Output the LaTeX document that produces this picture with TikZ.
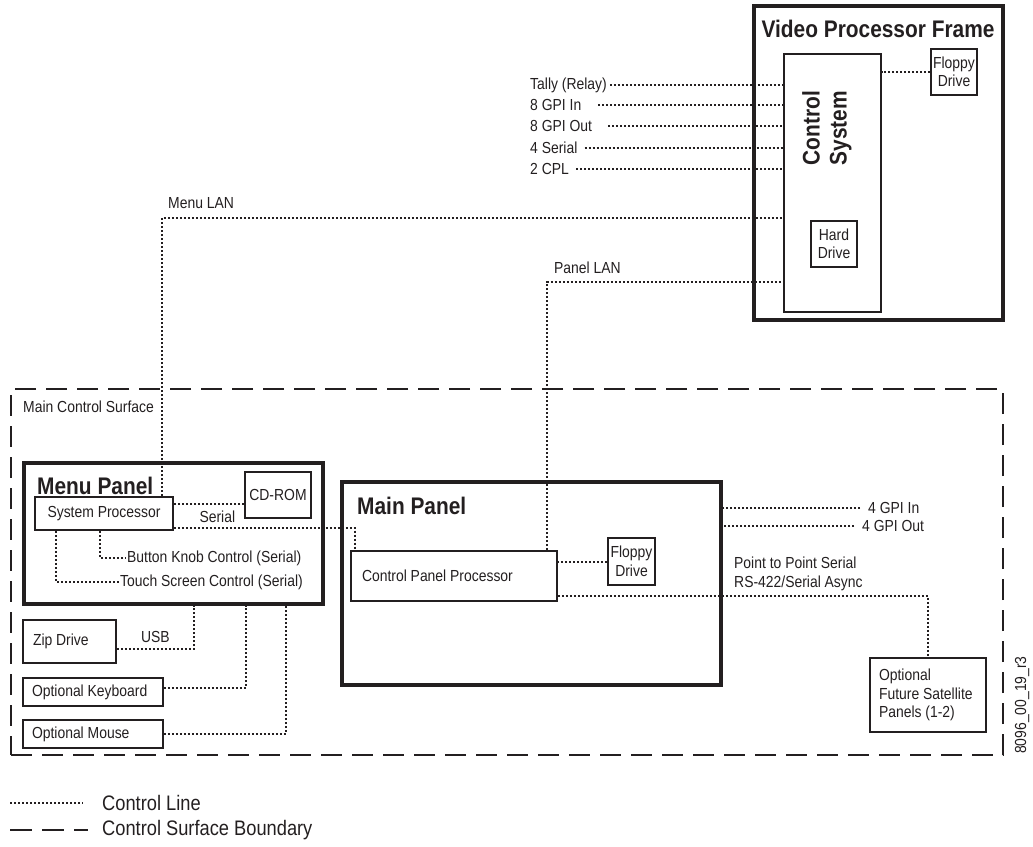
\documentclass[tikz,border=0pt]{standalone}
\usepackage{fontspec}
\setmainfont{Liberation Sans}[FakeStretch=0.87]
\usepackage{tikz}
\usetikzlibrary{positioning, calc}
\definecolor{ink}{HTML}{231F20}
\tikzstyle{frame} = [rectangle, draw=ink, line width=4pt, inner sep=0pt]
\tikzstyle{unit} = [rectangle, draw=ink, line width=1.6pt, inner sep=0pt, align=center]
\tikzstyle{title} = [anchor=west, inner sep=0pt, font=\bfseries\fontsize{24}{27}\selectfont]
\tikzstyle{lbl} = [anchor=west, inner sep=1pt]
\tikzstyle{ctrl} = [draw=ink, line width=2pt, dash pattern=on 2pt off 2pt]
\tikzstyle{bound} = [draw=ink, line width=1.6pt, dash pattern=on 21pt off 10pt]

\begin{document}
\begin{tikzpicture}[x=1pt, y=-1pt, text=ink, every node/.style={font=\fontsize{16}{18.5}\selectfont}]
  \useasboundingbox (0,0) rectangle (1033,846);

  % video processor frame
  \node[frame, minimum width=249pt, minimum height=314pt] (vpf) at (878.5,163) {};
  \node[inner sep=0pt, font=\bfseries\fontsize{24}{27}\selectfont] (vpftitle) at (878,29) {Video Processor Frame};
  \node[unit, minimum width=97pt, minimum height=258pt] (ctrlsys) at (832.5,183) {};
  \node[rotate=90, inner sep=0pt, align=center, font=\bfseries\fontsize{24}{27}\selectfont] (cslabel) at (827,128) {Control\\System};
  \node[unit, minimum width=46pt, minimum height=46pt] (floppyA) at (954,72) {Floppy\\Drive};
  \node[unit, minimum width=46pt, minimum height=46pt] (harddrive) at (834,244) {Hard\\Drive};
  \draw[ctrl] (floppyA.west) -- (floppyA.west -| ctrlsys.east);

  % frame signals
  \node[lbl] (tally) at (529,85) {Tally (Relay)};
  \node[lbl] (gpiin) at (529,105) {8 GPI In};
  \node[lbl] (gpiout) at (529,126) {8 GPI Out};
  \node[lbl] (serial) at (529,148) {4 Serial};
  \node[lbl] (cpl) at (529,169) {2 CPL};
  \draw[ctrl] ([xshift=2pt]tally.east) -- (tally -| ctrlsys.west);
  \draw[ctrl] ([xshift=16pt]gpiin.east) -- (gpiin -| ctrlsys.west);
  \draw[ctrl] ([xshift=15pt]gpiout.east) -- (gpiout -| ctrlsys.west);
  \draw[ctrl] ([xshift=6pt]serial.east) -- (serial -| ctrlsys.west);
  \draw[ctrl] ([xshift=6pt]cpl.east) -- (cpl -| ctrlsys.west);

  % control surface
  \node[bound, rectangle, minimum width=992pt, minimum height=366pt, inner sep=0pt] (surface) at (507,572) {};
  \node[lbl] (surfacelbl) at (22,407) {Main Control Surface};

  % menu panel
  \node[frame, minimum width=299pt, minimum height=141pt] (menupanel) at (173.5,533.5) {};
  \node[title] (menutitle) at (37,486) {Menu Panel};
  \node[unit, minimum width=138pt, minimum height=33pt] (sysproc) at (104,513.5) {System Processor};
  \node[unit, minimum width=66pt, minimum height=46pt] (cdrom) at (278,495) {CD-ROM};
  \node[lbl] (bkc) at (126,558) {Button Knob Control (Serial)};
  \node[lbl] (tsc) at (119,582) {Touch Screen Control (Serial)};
  \draw[ctrl] ([yshift=-9pt]cdrom.west) -- ([yshift=-9pt]cdrom.west -| sysproc.east);
  \draw[ctrl] ([xshift=-4pt]sysproc.south) |- (bkc.west);
  \draw[ctrl] ([xshift=22pt]sysproc.south west) |- (tsc.west);

  % peripherals
  \node[unit, minimum width=93pt, minimum height=43pt, text width=73pt, align=flush left] (zip) at (69.5,641.5) {Zip Drive};
  \node[unit, minimum width=140pt, minimum height=28pt, text width=122pt, align=flush left] (keyboard) at (93,692) {Optional Keyboard};
  \node[unit, minimum width=140pt, minimum height=28pt, text width=122pt, align=flush left] (mouse) at (93,734) {Optional Mouse};
  \draw[ctrl] ([yshift=-7.5pt]zip.east) -| node[pos=0.25, above=2pt] {USB} ([xshift=20.5pt]menupanel.south);
  \draw[ctrl] ([yshift=4pt]keyboard.east) -| ([xshift=72.5pt]menupanel.south);
  \draw[ctrl] (mouse.east) -| ([xshift=112.5pt]menupanel.south);

  % main panel
  \node[frame, minimum width=379pt, minimum height=203pt] (mainpanel) at (531.5,583.5) {};
  \node[title] (maintitle) at (357,506) {Main Panel};
  \node[unit, minimum width=206pt, minimum height=50pt, text width=184pt, align=flush left] (cpp) at (454,576) {Control Panel Processor};
  \node[unit, minimum width=47pt, minimum height=47pt] (floppyB) at (631.5,561.5) {Floppy\\Drive};
  \draw[ctrl] (floppyB.west) -- (floppyB.west -| cpp.east);
  \node[lbl] (gpi4in) at (867,508) {4 GPI In};
  \node[lbl] (gpi4out) at (861,526) {4 GPI Out};
  \draw[ctrl] ([xshift=-7pt]gpi4in.west) -- (gpi4in.west -| mainpanel.east);
  \draw[ctrl] ([xshift=-7pt]gpi4out.west) -- (gpi4out.west -| mainpanel.east);

  % satellite panels
  \node[unit, minimum width=116pt, minimum height=74pt, text width=98pt, align=flush left] (satellite) at (928,695) {Optional\\Future Satellite\\Panels (1-2)};
  \node[lbl, align=left] (p2p) at (733,574) {Point to Point Serial\\RS-422/Serial Async};
  \draw[ctrl] ([yshift=-20pt]cpp.east) -| (satellite.north);

  % serial from menu panel to main panel
  \draw[ctrl] ([yshift=-14.5pt]sysproc.east) -| node[pos=0.12, above=1pt] {Serial} ([xshift=5pt]cpp.north west);

  % LAN links
  \coordinate (menulan) at (162,218);
  \coordinate (panellan) at (547,282);
  \draw[ctrl] (menulan |- sysproc.north) -- (menulan) -- (menulan -| ctrlsys.west);
  \draw[ctrl] (panellan |- cpp.north) -- (panellan) -- (panellan -| ctrlsys.west);
  \node[lbl] (menulanlbl) at (167,203) {Menu LAN};
  \node[lbl] (panellanlbl) at (553,268) {Panel LAN};

  % drawing id
  \node[rotate=90, inner sep=0pt] (drawid) at (1022,705) {8096\_00\_19\_r3};

  % legend
  \node[lbl, font=\fontsize{21}{24}\selectfont] (lgctrl) at (101,803) {Control Line};
  \node[lbl, font=\fontsize{21}{24}\selectfont] (lgbound) at (101,830) {Control Surface Boundary};
  \coordinate (lgA) at (10,803);
  \coordinate (lgB) at (10,830);
  \draw[ctrl] (lgA) -- ([xshift=-18pt]lgctrl.west);
  \draw[bound, dash pattern=on 22pt off 10pt] (lgB) -- ([xshift=-13pt]lgbound.west);
\end{tikzpicture}
\end{document}
